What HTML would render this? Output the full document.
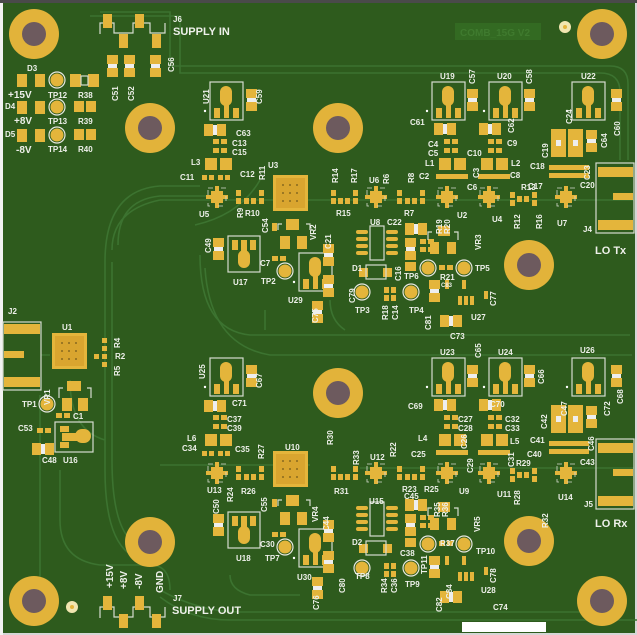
<!DOCTYPE html>
<html><head><meta charset="utf-8"><style>
html,body{margin:0;padding:0;background:#d8d8d8;}
svg{display:block}
.p{fill:#e4b53b}
.h{fill:#e2b33a}
.s{fill:none;stroke:#d6dccf;stroke-width:1.2}
.t{fill:none;stroke:#3c7330;stroke-width:1.6}
text{font-family:"Liberation Sans",sans-serif;font-weight:bold;font-size:8px;fill:#eef0ea}
.b{font-size:11px}
.m{font-size:10px}
</style></head><body>
<svg width="637" height="635" viewBox="0 0 637 635" xmlns="http://www.w3.org/2000/svg">
<defs>
<g id="hole"><circle r="25" class="h"/><circle r="12" fill="#6d5a5e"/></g>
<g id="qfn"><rect x="-6" y="-6" width="12" height="12" class="p"/><rect x="-2" y="-11" width="4" height="22" class="p"/><rect x="-11" y="-2" width="22" height="4" class="p"/><rect x="-9" y="-9" width="18" height="18" fill="none" stroke="#d6dccf" stroke-width="0.8" stroke-dasharray="5 8"/></g>
<g id="big"><rect x="0" y="0" width="35" height="36" class="p"/><rect x="3" y="3" width="29" height="30" fill="#d9a52f"/><g fill="#8a6a20"><circle cx="10" cy="10" r="1"/><circle cx="17" cy="10" r="1"/><circle cx="24" cy="10" r="1"/><circle cx="10" cy="18" r="1"/><circle cx="17" cy="18" r="1"/><circle cx="24" cy="18" r="1"/><circle cx="10" cy="26" r="1"/><circle cx="17" cy="26" r="1"/><circle cx="24" cy="26" r="1"/></g></g>
<g id="sot"><rect x="0" y="0" width="33" height="38" class="s"/><rect x="10" y="4" width="12" height="20" rx="6" class="p"/><rect x="14" y="18" width="5" height="18" class="p"/><rect x="4" y="26" width="6" height="10" class="p"/><rect x="23" y="26" width="6" height="10" class="p"/><circle cx="-5" cy="29" r="1.2" fill="#fff"/></g>
<g id="cap"><rect x="0" y="0" width="11" height="9" class="p"/><rect x="0" y="13" width="11" height="9" class="p"/><rect x="1" y="9" width="9" height="4" fill="#eee"/></g>
<g id="caph"><rect x="0" y="0" width="9" height="12" class="p"/><rect x="13" y="0" width="9" height="12" class="p"/><rect x="9" y="1" width="4" height="10" fill="#eee"/></g>
<g id="sm"><rect x="0" y="0" width="6" height="5" class="p"/><rect x="8" y="0" width="6" height="5" class="p"/></g>
<g id="tp"><circle r="8" fill="none" stroke="#e8e8e0" stroke-width="1.2"/><circle r="6.5" class="p"/></g>
<g id="chain">
 <!-- left supply section -->
 <use href="#sot" x="210" y="82"/>
 <use href="#cap" x="246" y="89"/>
 <use href="#caph" x="204" y="124"/>
 <use href="#sm" x="213" y="139"/><use href="#sm" x="213" y="148"/>
 <rect x="205" y="158" width="12" height="12" class="p"/><rect x="220" y="158" width="12" height="12" class="p"/>
 <rect x="202" y="175" width="5" height="5" class="p"/><rect x="209" y="175" width="5" height="5" class="p"/><rect x="218" y="175" width="5" height="5" class="p"/><rect x="225" y="175" width="5" height="5" class="p"/>
 <use href="#qfn" x="217" y="197"/>
 <rect x="236" y="190" width="5" height="6" class="p"/><rect x="236" y="198" width="5" height="6" class="p"/><rect x="244" y="198" width="5" height="6" class="p"/><rect x="251" y="198" width="5" height="6" class="p"/><rect x="259" y="198" width="5" height="6" class="p"/><rect x="259" y="190" width="5" height="6" class="p"/>
 <use href="#big" x="273" y="175"/>
 <rect x="331" y="190" width="5" height="6" class="p"/><rect x="331" y="198" width="5" height="6" class="p"/><rect x="338" y="198" width="5" height="6" class="p"/><rect x="345" y="198" width="5" height="6" class="p"/><rect x="353" y="198" width="5" height="6" class="p"/><rect x="353" y="190" width="5" height="6" class="p"/>
 <use href="#qfn" x="376" y="197"/>
 <rect x="397" y="190" width="5" height="6" class="p"/><rect x="397" y="198" width="5" height="6" class="p"/><rect x="405" y="198" width="5" height="6" class="p"/><rect x="412" y="198" width="5" height="6" class="p"/><rect x="420" y="198" width="5" height="6" class="p"/><rect x="420" y="190" width="5" height="6" class="p"/>
 <!-- U2 / U4 -->
 <use href="#sot" x="432" y="82"/><use href="#cap" x="467" y="89"/>
 <use href="#sot" x="489" y="82"/><use href="#cap" x="524" y="89"/>
 <use href="#caph" x="434" y="123"/><use href="#caph" x="479" y="123"/>
 <use href="#sm" x="444" y="139"/><use href="#sm" x="444" y="148"/>
 <use href="#sm" x="488" y="139"/><use href="#sm" x="488" y="148"/>
 <rect x="439" y="158" width="12" height="12" class="p"/><rect x="454" y="158" width="12" height="12" class="p"/>
 <rect x="481" y="158" width="12" height="12" class="p"/><rect x="496" y="158" width="12" height="12" class="p"/>
 <rect x="436" y="174" width="32" height="5" class="p"/><rect x="478" y="174" width="32" height="5" class="p"/>
 <use href="#qfn" x="447" y="197"/><use href="#qfn" x="489" y="197"/>
 <rect x="510" y="192" width="5" height="6" class="p"/><rect x="517" y="196" width="5" height="6" class="p"/><rect x="524" y="196" width="5" height="6" class="p"/><rect x="532" y="192" width="5" height="6" class="p"/><rect x="510" y="200" width="5" height="6" class="p"/><rect x="532" y="200" width="5" height="6" class="p"/>
 <!-- U7 -->
 <use href="#sot" x="572" y="82"/><use href="#cap" x="611" y="89"/>
 <rect x="551" y="129" width="15" height="28" class="p"/><rect x="556" y="140" width="5" height="6" fill="#eee"/>
 <rect x="568" y="129" width="15" height="28" class="p"/><rect x="573" y="140" width="5" height="6" fill="#eee"/>
 <use href="#cap" x="586" y="130"/>
 <rect x="549" y="165" width="40" height="5" class="p"/><rect x="549" y="173" width="40" height="5" class="p"/>
 <use href="#qfn" x="566" y="197"/>
 <rect x="596" y="163" width="38" height="70" class="s"/>
 <rect x="598" y="167" width="35" height="10" class="p"/><rect x="613" y="193" width="20" height="7" class="p"/><rect x="598" y="220" width="35" height="10" class="p"/>
 <!-- lower block -->
 <rect x="272" y="223" width="5" height="8" class="p"/>
 <rect x="286" y="219" width="13" height="11" class="p"/><rect x="280" y="236" width="10" height="13" class="p"/><rect x="297" y="236" width="10" height="13" class="p"/>
 <path d="M278 230v-6h4M310 230v-6h-4" class="s"/>
 <use href="#cap" x="213" y="238"/>
 <rect x="228" y="236" width="32" height="36" class="s"/><rect x="232" y="240" width="6" height="10" class="p"/><rect x="250" y="240" width="6" height="10" class="p"/><rect x="241" y="240" width="6" height="14" class="p"/><rect x="238" y="250" width="12" height="18" rx="6" class="p"/>
 <use href="#sm" x="272" y="256"/>
 <use href="#tp" x="285" y="271"/>
 <use href="#sot" x="299" y="253" transform="rotate(0)"/>
 <use href="#cap" x="323" y="244"/><use href="#cap" x="323" y="275"/><use href="#cap" x="312" y="301"/>
 <rect x="370" y="226" width="14" height="34" class="s"/>
 <rect x="356" y="230" width="12" height="4" rx="2" class="p"/><rect x="356" y="237" width="12" height="4" rx="2" class="p"/><rect x="356" y="244" width="12" height="4" rx="2" class="p"/><rect x="356" y="251" width="12" height="4" rx="2" class="p"/>
 <rect x="386" y="230" width="12" height="4" rx="2" class="p"/><rect x="386" y="237" width="12" height="4" rx="2" class="p"/><rect x="386" y="244" width="12" height="4" rx="2" class="p"/><rect x="386" y="251" width="12" height="4" rx="2" class="p"/>
 <rect x="359" y="268" width="9" height="9" class="p"/><rect x="383" y="268" width="9" height="9" class="p"/><rect x="366" y="265" width="20" height="14" class="s"/>
 <use href="#caph" x="405" y="223"/><use href="#cap" x="405" y="238"/><rect x="405" y="262" width="11" height="9" class="p"/>
 <use href="#sm" x="420" y="239" transform="rotate(0)"/><use href="#sm" x="420" y="247"/>
 <rect x="438" y="226" width="12" height="10" class="p"/><rect x="430" y="242" width="9" height="12" class="p"/><rect x="447" y="242" width="9" height="12" class="p"/>
 <path d="M428 240v-8h4M458 240v-8h-4" class="s"/>
 <use href="#tp" x="428" y="268"/><use href="#tp" x="464" y="268"/>
 <use href="#sm" x="439" y="265"/>
 <use href="#tp" x="362" y="292"/><use href="#tp" x="411" y="292"/>
 <rect x="384" y="287" width="5" height="6" class="p"/><rect x="391" y="287" width="5" height="6" class="p"/><rect x="384" y="295" width="5" height="6" class="p"/><rect x="391" y="295" width="5" height="6" class="p"/>
 <use href="#cap" x="429" y="280"/>
 <rect x="445" y="280" width="4" height="9" class="p"/><rect x="458" y="296" width="4" height="9" class="p"/><rect x="464" y="296" width="4" height="9" class="p"/><rect x="470" y="296" width="4" height="9" class="p"/><rect x="462" y="280" width="4" height="9" class="p"/>
 <rect x="484" y="291" width="4" height="8" class="p"/>
 <use href="#caph" x="440" y="315"/>
</g>
</defs>

<!-- board -->
<rect x="0" y="0" width="637" height="635" fill="#d6d6d6"/>
<rect x="3" y="3" width="632" height="630" fill="#2e5b1d"/>
<rect x="0" y="0" width="637" height="3" fill="#4a4a4a"/>
<rect x="0" y="3" width="3" height="632" fill="#f2f2f2"/>

<!-- traces -->
<g class="t">
 <path d="M100 12H170V66H610Q628 66 628 84V160"/>
 <path d="M90 16H180V73H600Q620 73 620 92V160"/>
 <path d="M118 245Q118 200 160 196H210"/>
 <path d="M105 262Q105 190 160 186H200"/>
 <path d="M112 250Q112 210 160 200"/>
 <path d="M105 262V470Q105 560 150 560"/>
 <path d="M112 262V460Q112 548 150 548"/>
 <path d="M60 470V520Q60 560 100 565H150Q170 565 170 590"/>
 <path d="M40 395V610"/>
 <path d="M160 597Q190 620 230 620H640"/>
 <path d="M160 590Q200 612 240 612H600"/>
 <path d="M195 225Q240 215 260 180"/>
 <path d="M160 200H634M360 468H634M160 465H310"/>
 <path d="M200 255Q200 330 250 335H630"/>
 <path d="M205 268Q210 345 270 355H632"/>
 <path d="M265 330V310M330 300Q330 320 345 330"/>
 <path d="M70 380Q70 430 105 440"/>
 <path d="M10 355H50"/>
 <path d="M230 575Q230 590 250 595H300"/>
</g>
<rect x="455" y="23" width="86" height="17" fill="#336a22"/>
<text x="460" y="36" style="fill:#3f7a2e;font-size:10px">COMB_15G V2</text>

<!-- holes -->
<use href="#hole" x="34" y="34"/><use href="#hole" x="602" y="34"/>
<use href="#hole" x="150" y="128"/><use href="#hole" x="338" y="128"/>
<use href="#hole" x="529" y="265"/><use href="#hole" x="338" y="393"/>
<use href="#hole" x="150" y="542"/><use href="#hole" x="529" y="541"/>
<use href="#hole" x="34" y="601"/><use href="#hole" x="602" y="601"/>
<circle cx="72" cy="607" r="6" fill="#f1e6b0"/><circle cx="72" cy="607" r="2" class="p"/>
<circle cx="565" cy="27" r="6" fill="#f1e6b0"/><circle cx="565" cy="27" r="2" class="p"/>

<!-- top-left supply -->
<path d="M100 34V23H114V33H133V23H150V33H165V23" class="s"/>
<rect x="103" y="14" width="9" height="14" class="p"/><rect x="135" y="14" width="9" height="14" class="p"/>
<rect x="119" y="34" width="9" height="14" class="p"/><rect x="152" y="34" width="9" height="14" class="p"/>
<use href="#cap" x="107" y="55"/><use href="#cap" x="124" y="55"/><use href="#cap" x="150" y="55"/>
<g>
<rect x="17" y="74" width="10" height="13" class="p"/><rect x="35" y="74" width="10" height="13" class="p"/>
<rect x="17" y="101" width="10" height="13" class="p"/><rect x="35" y="101" width="10" height="13" class="p"/>
<rect x="17" y="129" width="10" height="13" class="p"/><rect x="35" y="129" width="10" height="13" class="p"/>
<use href="#tp" x="57" y="80"/><use href="#tp" x="57" y="107"/><use href="#tp" x="57" y="135"/>
<rect x="70" y="74" width="11" height="13" class="p"/><rect x="88" y="74" width="11" height="13" class="p"/><rect x="81" y="76" width="7" height="9" class="s"/>
<rect x="74" y="101" width="10" height="11" class="p"/><rect x="86" y="101" width="10" height="11" class="p"/>
<rect x="74" y="129" width="10" height="11" class="p"/><rect x="86" y="129" width="10" height="11" class="p"/>
</g>

<use href="#chain"/>
<use href="#chain" transform="translate(0,276)"/>
<rect x="0" y="320" width="3" height="80" fill="#f2f2f2"/>

<!-- left J2 / U1 -->
<rect x="3" y="322" width="38" height="70" fill="#2e5b1d"/>
<rect x="3" y="322" width="38" height="68" class="s"/>
<rect x="4" y="324" width="36" height="10" class="p"/><rect x="4" y="351" width="20" height="7" class="p"/><rect x="4" y="377" width="36" height="10" class="p"/>
<use href="#big" x="52" y="333"/>
<rect x="102" y="338" width="5" height="5" class="p"/><rect x="102" y="346" width="5" height="5" class="p"/><rect x="94" y="354" width="5" height="5" class="p"/><rect x="102" y="354" width="5" height="5" class="p"/><rect x="102" y="362" width="5" height="5" class="p"/>
<rect x="67" y="381" width="14" height="10" class="p"/><rect x="62" y="398" width="10" height="13" class="p"/><rect x="78" y="398" width="10" height="13" class="p"/>
<path d="M59 398v-10h4M91 398v-10h-4" class="s"/>
<use href="#tp" x="47" y="404"/>
<use href="#sm" x="56" y="413"/>
<rect x="55" y="422" width="38" height="30" class="s"/><rect x="60" y="426" width="9" height="6" class="p"/><rect x="60" y="442" width="9" height="6" class="p"/><rect x="62" y="433" width="18" height="8" class="p"/><rect x="75" y="429" width="16" height="14" rx="7" class="p"/>
<use href="#sm" x="37" y="428"/>
<use href="#caph" x="32" y="443"/>

<!-- bottom J7 -->
<path d="M100 618V607H114V617H133V607H150V617H165V607" class="s"/>
<rect x="103" y="596" width="9" height="14" class="p"/><rect x="135" y="596" width="9" height="14" class="p"/>
<rect x="119" y="614" width="9" height="14" class="p"/><rect x="152" y="614" width="9" height="14" class="p"/>
<rect x="462" y="622" width="84" height="10" fill="#fff"/>

<!-- labels top-left -->
<text x="173" y="22">J6</text><text class="b" x="173" y="35">SUPPLY IN</text>
<text x="27" y="71">D3</text><text x="5" y="109">D4</text><text x="5" y="137">D5</text>
<text class="m" x="8" y="98">+15V</text><text class="m" x="14" y="124">+8V</text><text class="m" x="16" y="153">-8V</text>
<text x="48" y="98">TP12</text><text x="48" y="124">TP13</text><text x="48" y="152">TP14</text>
<text x="78" y="98">R38</text><text x="78" y="124">R39</text><text x="78" y="152">R40</text>
<text transform="translate(118,101) rotate(-90)">C51</text><text transform="translate(134,101) rotate(-90)">C52</text><text transform="translate(174,72) rotate(-90)">C56</text>
<text transform="translate(209,104) rotate(-90)">U21</text><text transform="translate(262,104) rotate(-90)">C59</text>
<text x="236" y="136">C63</text><text x="232" y="146">C13</text><text x="232" y="155">C15</text>
<text x="191" y="165">L3</text><text x="180" y="180">C11</text><text x="240" y="177">C12</text>
<text x="268" y="168">U3</text><text transform="translate(265,180) rotate(-90)">R11</text>
<text x="199" y="217">U5</text><text transform="translate(243,218) rotate(-90)">R9</text><text x="245" y="216">R10</text>
<text transform="translate(268,233) rotate(-90)">C54</text><text transform="translate(316,240) rotate(-90)">VR2</text>
<text transform="translate(211,253) rotate(-90)">C49</text><text x="260" y="266">C7</text>
<text x="233" y="285">U17</text><text x="261" y="284">TP2</text><text x="288" y="303">U29</text>
<text transform="translate(318,323) rotate(-90)">C75</text>
<text x="8" y="314">J2</text>
<!-- top right -->
<text x="440" y="79">U19</text><text transform="translate(475,84) rotate(-90)">C57</text>
<text x="497" y="79">U20</text><text transform="translate(532,84) rotate(-90)">C58</text>
<text x="581" y="79">U22</text>
<text x="410" y="125">C61</text><text transform="translate(514,133) rotate(-90)">C62</text>
<text transform="translate(572,124) rotate(-90)">C24</text><text transform="translate(607,148) rotate(-90)">C64</text><text transform="translate(620,136) rotate(-90)">C60</text>
<text transform="translate(548,158) rotate(-90)">C19</text>
<text x="428" y="147">C4</text><text x="428" y="156">C5</text><text x="507" y="146">C9</text><text x="467" y="156">C10</text>
<text x="425" y="166">L1</text><text x="511" y="166">L2</text><text transform="translate(479,178) rotate(-90)">C3</text>
<text x="510" y="178">C8</text><text x="467" y="190">C6</text>
<text x="530" y="169">C18</text><text x="528" y="189">C17</text><text transform="translate(590,180) rotate(-90)">C23</text><text x="580" y="188">C20</text>
<text transform="translate(338,183) rotate(-90)">R14</text><text transform="translate(357,183) rotate(-90)">R17</text>
<text x="369" y="183">U6</text><text transform="translate(389,184) rotate(-90)">R6</text>
<text transform="translate(414,183) rotate(-90)">R8</text><text x="419" y="179">C2</text>
<text x="336" y="216">R15</text><text x="404" y="216">R7</text>
<text x="457" y="218">U2</text><text x="492" y="222">U4</text>
<text x="521" y="190">R13</text><text transform="translate(520,229) rotate(-90)">R12</text><text transform="translate(542,229) rotate(-90)">R16</text>
<text x="557" y="226">U7</text><text x="583" y="232">J4</text>
<text class="b" x="595" y="254">LO Tx</text>
<text x="370" y="225">U8</text><text x="387" y="225">C22</text>
<text transform="translate(442,234) rotate(-90)">R19</text><text transform="translate(450,234) rotate(-90)">R20</text>
<text transform="translate(481,250) rotate(-90)">VR3</text>
<text transform="translate(331,249) rotate(-90)">C21</text>
<text x="352" y="271">D1</text><text transform="translate(401,281) rotate(-90)">C16</text>
<text x="404" y="279">TP6</text><text x="440" y="280">R21</text><text x="441" y="287" style="font-size:6px">C83</text>
<text x="475" y="271">TP5</text>
<text transform="translate(355,303) rotate(-90)">C79</text><text x="355" y="313">TP3</text><text x="409" y="313">TP4</text>
<text transform="translate(388,320) rotate(-90)">R18</text><text transform="translate(398,320) rotate(-90)">C14</text>
<text transform="translate(496,306) rotate(-90)">C77</text>
<text transform="translate(431,330) rotate(-90)">C81</text><text x="471" y="320">U27</text><text x="450" y="339">C73</text>
<!-- left middle -->
<text x="62" y="330">U1</text><text transform="translate(120,348) rotate(-90)">R4</text><text x="115" y="359">R2</text><text transform="translate(120,376) rotate(-90)">R5</text>
<text transform="translate(50,405) rotate(-90)">VR1</text><text x="22" y="407">TP1</text><text x="73" y="419">C1</text>
<text x="18" y="431">C53</text><text x="42" y="463">C48</text><text x="63" y="463">U16</text>
<!-- lower -->
<text transform="translate(205,379) rotate(-90)">U25</text><text transform="translate(262,388) rotate(-90)">C67</text>
<text x="232" y="406">C71</text><text x="227" y="422">C37</text><text x="227" y="431">C39</text>
<text x="187" y="441">L6</text><text x="182" y="451">C34</text><text x="235" y="452">C35</text>
<text transform="translate(264,459) rotate(-90)">R27</text><text x="285" y="450">U10</text>
<text x="207" y="493">U13</text><text transform="translate(233,502) rotate(-90)">R24</text><text x="241" y="494">R26</text>
<text transform="translate(219,514) rotate(-90)">C50</text><text transform="translate(267,512) rotate(-90)">C55</text>
<text transform="translate(318,522) rotate(-90)">VR4</text><text x="260" y="547">C30</text>
<text x="236" y="561">U18</text><text x="265" y="561">TP7</text><text x="297" y="580">U30</text>
<text transform="translate(319,610) rotate(-90)">C76</text>
<text class="m" transform="translate(113,588) rotate(-90)">+15V</text>
<text class="m" transform="translate(127,589) rotate(-90)">+8V</text>
<text class="m" transform="translate(142,589) rotate(-90)">-8V</text>
<text class="m" transform="translate(163,593) rotate(-90)">GND</text>
<text x="173" y="601">J7</text><text class="b" x="172" y="614">SUPPLY OUT</text>
<text x="440" y="355">U23</text><text transform="translate(481,358) rotate(-90)">C65</text>
<text x="498" y="355">U24</text><text transform="translate(544,384) rotate(-90)">C66</text>
<text x="580" y="353">U26</text>
<text x="408" y="409">C69</text><text x="490" y="407">C70</text>
<text x="458" y="422">C27</text><text x="458" y="431">C28</text><text x="505" y="422">C32</text><text x="505" y="431">C33</text>
<text x="418" y="441">L4</text><text x="510" y="444">L5</text><text transform="translate(467,449) rotate(-90)">C26</text>
<text x="411" y="457">C25</text><text transform="translate(473,473) rotate(-90)">C29</text><text transform="translate(514,467) rotate(-90)">C31</text>
<text x="530" y="443">C41</text><text x="527" y="457">C40</text>
<text transform="translate(547,429) rotate(-90)">C42</text><text transform="translate(567,416) rotate(-90)">C47</text>
<text transform="translate(610,416) rotate(-90)">C72</text><text transform="translate(623,404) rotate(-90)">C68</text>
<text transform="translate(594,451) rotate(-90)">C46</text><text x="580" y="465">C43</text>
<text transform="translate(333,445) rotate(-90)">R30</text><text transform="translate(359,465) rotate(-90)">R33</text>
<text x="370" y="460">U12</text><text transform="translate(396,457) rotate(-90)">R22</text>
<text x="334" y="494">R31</text><text x="402" y="492">R23</text><text x="424" y="492">R25</text>
<text x="459" y="494">U9</text><text x="497" y="497">U11</text>
<text x="516" y="466">R29</text><text transform="translate(520,505) rotate(-90)">R28</text>
<text x="558" y="500">U14</text><text x="584" y="507">J5</text>
<text class="b" x="595" y="527">LO Rx</text>
<text transform="translate(548,528) rotate(-90)">R32</text>
<text x="369" y="504">U15</text><text x="404" y="499">C45</text>
<text transform="translate(440,517) rotate(-90)">R35</text><text transform="translate(448,517) rotate(-90)">R36</text>
<text transform="translate(480,532) rotate(-90)">VR5</text>
<text transform="translate(329,531) rotate(-90)">C44</text><text x="352" y="545">D2</text>
<text x="400" y="556">C38</text><text x="440" y="546">R37</text><text x="476" y="554">TP10</text>
<text x="355" y="579">TP8</text><text x="405" y="587">TP9</text>
<text transform="translate(427,574) rotate(-90)">TP11</text>
<text transform="translate(387,593) rotate(-90)">R34</text><text transform="translate(397,593) rotate(-90)">C36</text>
<text transform="translate(345,593) rotate(-90)">C80</text>
<text transform="translate(442,612) rotate(-90)">C82</text><text transform="translate(452,599) rotate(-90)">C84</text>
<text transform="translate(496,583) rotate(-90)">C78</text><text x="481" y="593">U28</text><text x="493" y="610">C74</text>
</svg>
</body></html>
